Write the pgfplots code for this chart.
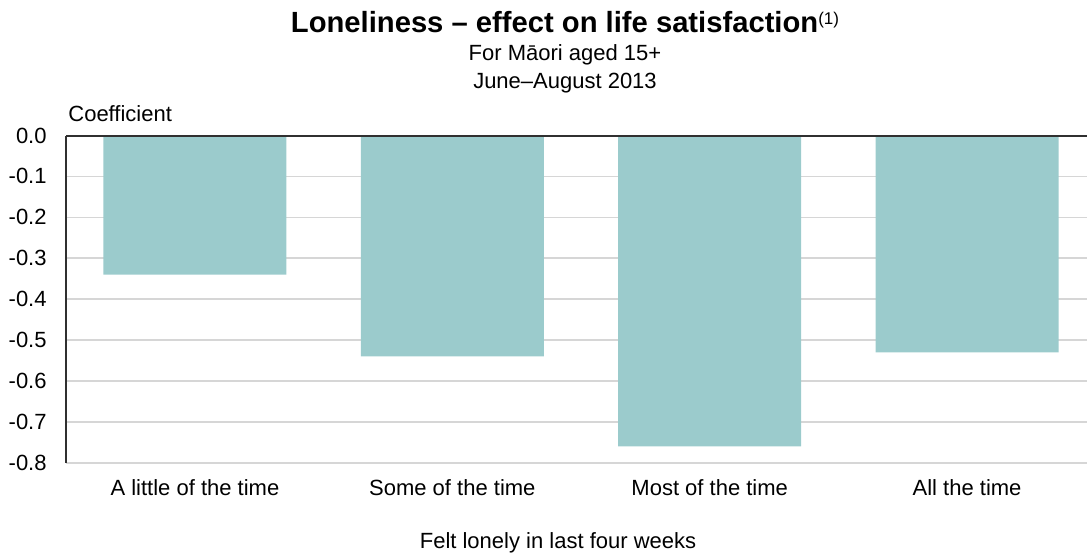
\documentclass[border=0pt]{standalone}
\usepackage{pgfplots}
\pgfplotsset{compat=1.18}
\usepackage{fontspec}
\setmainfont{Liberation Sans}

\definecolor{barteal}{HTML}{9BCBCC}
\definecolor{gridgray}{HTML}{D6D6D6}
\definecolor{axisdark}{HTML}{303030}

\begin{document}
\fontsize{11pt}{13pt}\selectfont
\begin{tikzpicture}
\useasboundingbox (0,0) rectangle (543.5pt,276.5pt);

% titles
\node[anchor=base, inner sep=0pt] at (282.5pt,260pt)
  {\fontsize{14.6pt}{16pt}\selectfont\bfseries Loneliness -- effect on life satisfaction\raisebox{4.2pt}{\normalfont\fontsize{8.5pt}{10pt}\selectfont (1)}};
\node[anchor=base, inner sep=0pt] at (282.5pt,246pt) {For Māori aged 15+};
\node[anchor=base, inner sep=0pt] at (282.5pt,232.5pt) {June--August 2013};

\node[anchor=base west, inner sep=0pt] at (34pt,215.5pt) {Coefficient};

\begin{axis}[
  at={(33pt,45.15pt)}, anchor=south west,
  scale only axis, width=510.5pt, height=163.6pt,
  xmin=-0.501, xmax=3.466, ymin=-0.8, ymax=0,
  ybar, bar width=91.5pt, bar shift=0pt,
  axis y line*=left, axis x line*=bottom,
  x axis line style={draw=none},
  y axis line style={axisdark, line width=1pt},
  major tick length=0pt,
  ymajorgrids, grid style={gridgray, line width=0.8pt},
  ytick={-0.8,-0.7,-0.6,-0.5,-0.4,-0.3,-0.2,-0.1,0},
  yticklabel style={anchor=east, inner sep=0pt, xshift=-9.5pt,
    /pgf/number format/.cd, fixed, fixed zerofill, precision=1, assume math mode=true},
  xtick={0,1,2,3},
  xticklabels={A little of the time, Some of the time, Most of the time, All the time},
  xticklabel style={anchor=base, inner sep=0pt, yshift=-16.6pt},
]
\addplot[fill=barteal, draw=none] coordinates {
  (0,-0.34) (1,-0.54) (2,-0.76) (3,-0.53)
};
\draw[axisdark, line width=1pt] (rel axis cs:0,1) -- (rel axis cs:1,1);
\end{axis}

\node[anchor=base, inner sep=0pt] at (279pt,2.5pt) {Felt lonely in last four weeks};
\end{tikzpicture}
\end{document}
